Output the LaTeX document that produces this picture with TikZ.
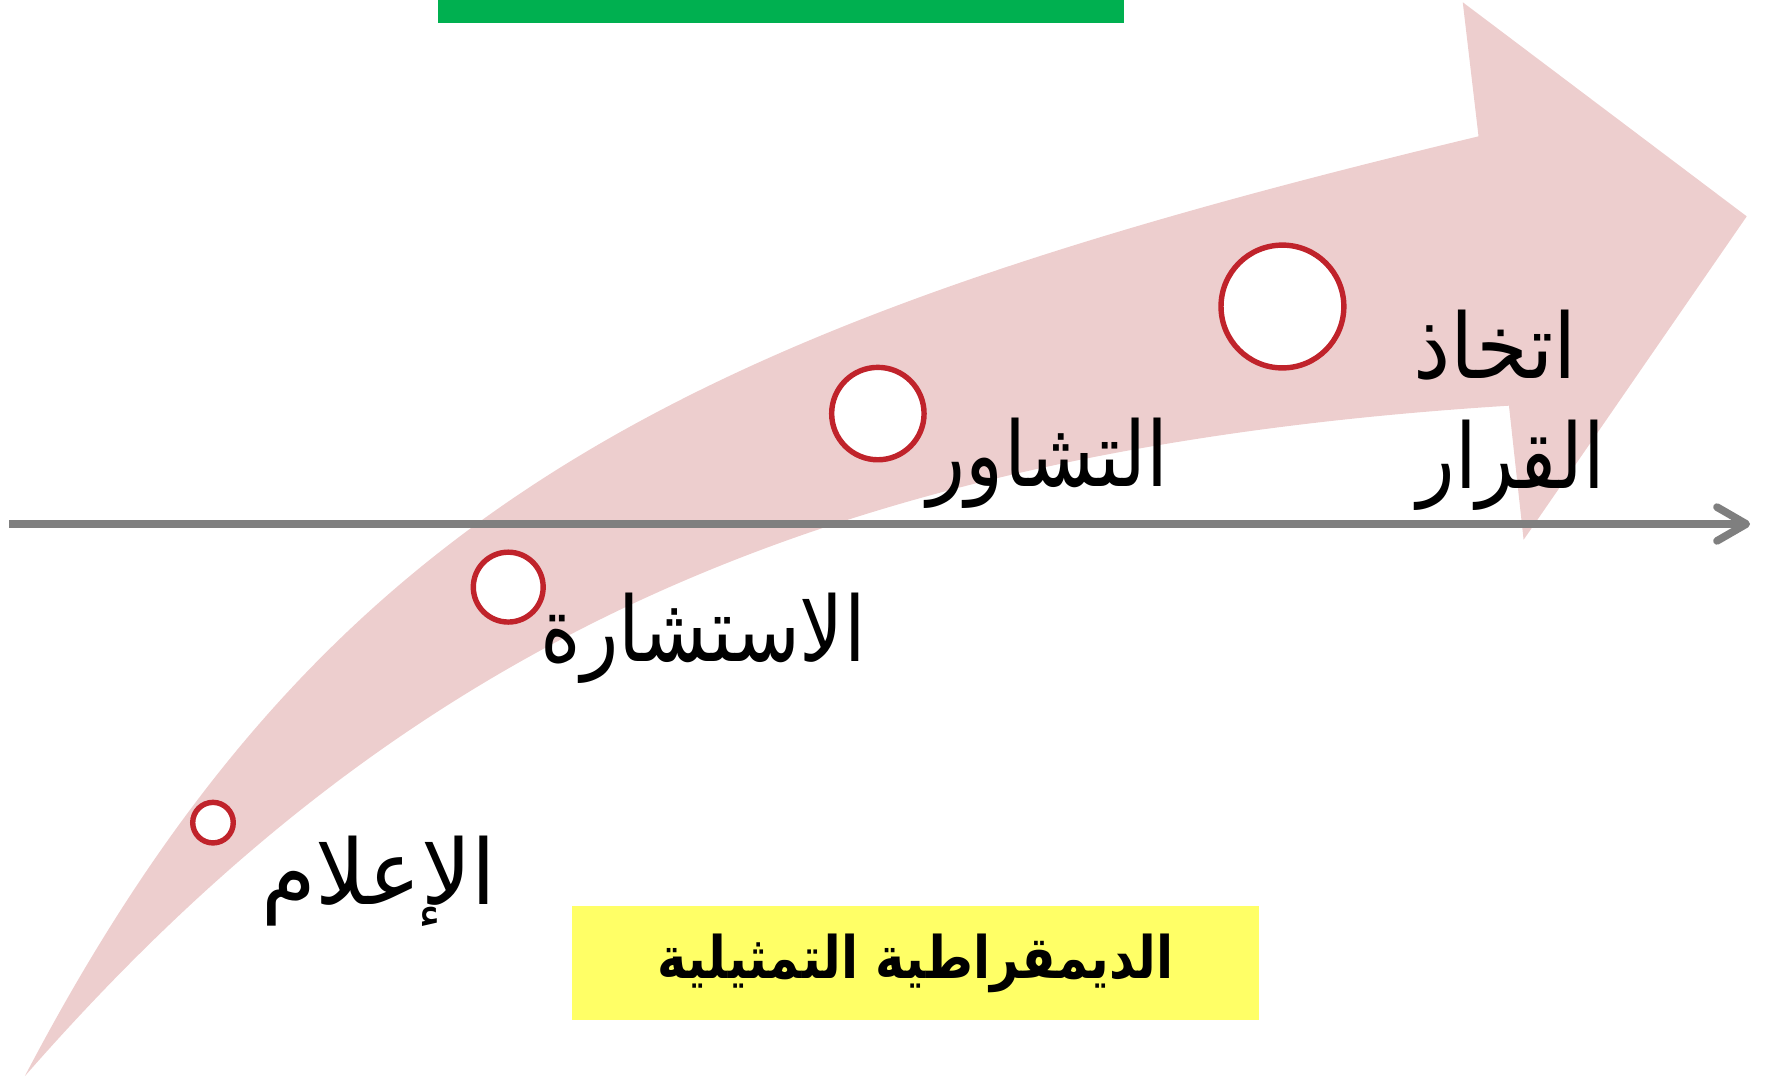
\documentclass[tikz,border=0pt]{standalone}
\usepackage{fontspec}
\usetikzlibrary{arrows.meta}
\TeXXeTstate=1
\newfontfamily\arabicfont[Script=Arabic]{DejaVu Sans}
\definecolor{pinkband}{RGB}{237,206,206}
\definecolor{ringred}{RGB}{192,35,43}
\definecolor{axisgray}{RGB}{127,127,127}
\definecolor{barGreen}{RGB}{0,176,80}
\definecolor{boxYellow}{RGB}{255,255,102}
\tikzset{
  ring/.style={circle, draw=ringred, fill=white, line width=2.4pt, inner sep=0pt},
  lbl/.style={inner sep=0pt, font=\arabicfont\fontsize{40}{48}\selectfont, text=black},
  axisline/.style={draw=axisgray, line width=3.4pt,
    -{Straight Barb[length=13pt,width=15pt,line cap=round,line join=round]}},
}
\begin{document}
\begin{tikzpicture}[x=0.5pt,y=-0.5pt]
\useasboundingbox (0,0) rectangle (1568,956);
% curved band arrow
\fill[pinkband] (22,955) .. controls (288,447) and (612,289) .. (1312,121)
  -- (1298,2) -- (1550,192) -- (1352,479) -- (1339,360)
  .. controls (700,400) and (340,592) .. (22,955) -- cycle;
% top green bar
\node[fill=barGreen, inner sep=0pt, minimum width=304.5pt, minimum height=10pt, anchor=north west] (greenbar) at (388,0) {};
% axis
\coordinate (axL) at (8,465);
\coordinate (axR) at (1553,465);
\draw[axisline] (axL) -- (axR);
% rings
\node[ring, minimum size=18pt] (c1) at (189,730) {};
\node[ring, minimum size=31pt] (c2) at (451,521) {};
\node[ring, minimum size=41pt] (c3) at (779,367) {};
\node[ring, minimum size=54.5pt] (c4) at (1138,272) {};
% labels
\node[lbl] (t1) at (336,782) {\scalebox{0.98}[1]{\beginR الإعلام\endR}};
\node[lbl] (t2) at (624,566) {\scalebox{0.86}[1]{\beginR الاستشارة\endR}};
\node[lbl] (t3) at (930,411) {\scalebox{0.875}[1]{\beginR التشاور\endR}};
\node[lbl] (t4a) at (1327,306) {\scalebox{0.93}[1]{\beginR اتخاذ\endR}};
\node[lbl] (t4b) at (1341,413) {\scalebox{0.865}[1]{\beginR القرار\endR}};
% yellow box
\node[fill=boxYellow, inner sep=0pt, minimum width=304.5pt, minimum height=50.5pt,
  font=\arabicfont\bfseries\fontsize{26}{32}\selectfont] (ybox) at (812.5,854.5) {\scalebox{0.85}[1]{\beginR الديمقراطية التمثيلية\endR}};
\end{tikzpicture}
\end{document}
